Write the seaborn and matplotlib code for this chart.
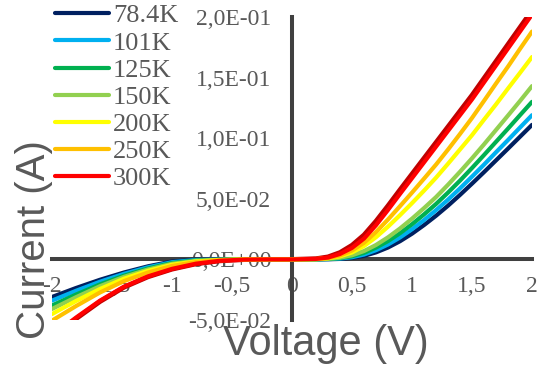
import numpy as np
import pandas as pd
import matplotlib
matplotlib.use("Agg")
import matplotlib.pyplot as plt
import seaborn as sns
from matplotlib.ticker import FuncFormatter

sns.set_theme(style="white")

voltage = [-2.0, -1.8, -1.6, -1.4, -1.2, -1.0, -0.8, -0.6, -0.4, -0.2, 0.0,
           0.2, 0.3, 0.4, 0.5, 0.6, 0.7, 0.8, 0.9, 1.0,
           1.1, 1.2, 1.3, 1.4, 1.5, 1.6, 1.7, 1.8, 1.9, 2.0]

i_78K = [-0.0310, -0.0236, -0.0168, -0.0108, -0.0057, -0.0017, -0.0002, -0.0001, 0.0, 0.0, 0.0,
         0.0000, 0.0001, 0.0004, 0.0012, 0.0029, 0.0058, 0.0098, 0.0150, 0.0212,
         0.0283, 0.0360, 0.0443, 0.0532, 0.0625, 0.0720, 0.0817, 0.0914, 0.1012, 0.1110]
i_101K = [-0.0340, -0.0259, -0.0184, -0.0119, -0.0065, -0.0023, -0.0005, -0.0002, 0.0, 0.0, 0.0,
          0.0000, 0.0002, 0.0007, 0.0018, 0.0040, 0.0076, 0.0123, 0.0181, 0.0249,
          0.0324, 0.0406, 0.0493, 0.0586, 0.0683, 0.0782, 0.0884, 0.0985, 0.1088, 0.1190]
i_125K = [-0.0380, -0.0290, -0.0206, -0.0134, -0.0075, -0.0030, -0.0009, -0.0003, 0.0, 0.0, 0.0,
          0.0001, 0.0004, 0.0010, 0.0026, 0.0054, 0.0097, 0.0151, 0.0216, 0.0290,
          0.0371, 0.0457, 0.0551, 0.0650, 0.0754, 0.0861, 0.0970, 0.1079, 0.1190, 0.1300]
i_150K = [-0.0409, -0.0312, -0.0221, -0.0144, -0.0083, -0.0036, -0.0012, -0.0004, -0.0001, 0.0, 0.0,
          0.0001, 0.0005, 0.0014, 0.0034, 0.0069, 0.0119, 0.0182, 0.0255, 0.0336,
          0.0423, 0.0514, 0.0616, 0.0723, 0.0834, 0.0949, 0.1068, 0.1187, 0.1307, 0.1430]
i_200K = [-0.0451, -0.0343, -0.0244, -0.0159, -0.0094, -0.0044, -0.0017, -0.0005, -0.0001, 0.0, 0.0,
          0.0002, 0.0009, 0.0025, 0.0057, 0.0110, 0.0183, 0.0270, 0.0365, 0.0464,
          0.0567, 0.0674, 0.0789, 0.0907, 0.1025, 0.1153, 0.1279, 0.1410, 0.1539, 0.1670]
i_250K = [-0.0505, -0.0385, -0.0273, -0.0179, -0.0108, -0.0054, -0.0022, -0.0007, -0.0001, 0.0, 0.0,
          0.0003, 0.0011, 0.0032, 0.0073, 0.0137, 0.0226, 0.0329, 0.0439, 0.0551,
          0.0666, 0.0782, 0.0906, 0.1035, 0.1167, 0.1308, 0.1451, 0.1591, 0.1737, 0.1880]
i_300K = [-0.0630, -0.0480, -0.0340, -0.0225, -0.0140, -0.0078, -0.0035, -0.0011, -0.0002, 0.0, 0.0,
          0.0004, 0.0015, 0.0045, 0.0095, 0.0172, 0.0282, 0.0408, 0.0540, 0.0670,
          0.0800, 0.0930, 0.1060, 0.1190, 0.1320, 0.1460, 0.1600, 0.1740, 0.1880, 0.2020]
i_extra = [-0.0640, -0.0490, -0.0348, -0.0230, -0.0144, -0.0081, -0.0037, -0.0012, -0.0002, 0.0, 0.0,
           0.0006, 0.0021, 0.0057, 0.0117, 0.0202, 0.0316, 0.0443, 0.0575, 0.0705,
           0.0835, 0.0965, 0.1095, 0.1225, 0.1355, 0.1495, 0.1635, 0.1775, 0.1915, 0.2055]

labels = ["78.4K", "101K", "125K", "150K", "200K", "250K", "300K"]
colors = ["#002060", "#00B0F0", "#00B050", "#92D050", "#FFFF00", "#FFC000", "#FF0000"]
series = [i_78K, i_101K, i_125K, i_150K, i_200K, i_250K, i_300K]

x_ticks = [-2, -1.5, -1, -0.5, 0, 0.5, 1, 1.5, 2]
y_ticks = [-0.05, 0, 0.05, 0.1, 0.15, 0.2]

rows = []
for lab, vals in zip(labels, series):
    for v, c in zip(voltage, vals):
        rows.append({"V": v, "I": c, "T": lab})
df = pd.DataFrame(rows)
df_extra = pd.DataFrame({"V": voltage, "I": i_extra})

fig = plt.figure(figsize=(5.41, 3.65), dpi=100)
ax = fig.add_axes([52 / 541, 45 / 365, 480 / 541, 303 / 365])

gray = "#595959"
axc = "#404040"

sns.lineplot(data=df_extra, x="V", y="I", color="#C00000", lw=3.4, ax=ax,
             sort=False, estimator=None, legend=False)
sns.lineplot(data=df, x="V", y="I", hue="T", hue_order=labels,
             palette=dict(zip(labels, colors)), lw=3.0, ax=ax,
             sort=False, estimator=None)
for ln in ax.get_lines():
    ln.set_solid_capstyle("round")
    ln.set_solid_joinstyle("round")

ax.set_xlim(-2, 2)
ax.set_ylim(-0.05, 0.2)

for s in ["top", "right"]:
    ax.spines[s].set_visible(False)
for s in ["left", "bottom"]:
    ax.spines[s].set_position(("data", 0))
    ax.spines[s].set_color(axc)
    ax.spines[s].set_linewidth(2.9)
    ax.spines[s].set_zorder(1)

ax.set_xticks(x_ticks)
ax.set_yticks(y_ticks)
ax.xaxis.set_major_formatter(FuncFormatter(lambda v, p: ("%g" % v).replace(".", ",")))
ax.yaxis.set_major_formatter(FuncFormatter(lambda v, p: ("%.1E" % v).replace(".", ",")))
ax.tick_params(axis="both", direction="inout", length=10, width=2.9, color=axc,
               labelcolor=gray, labelsize=17)
ax.tick_params(axis="x", pad=7)
ax.tick_params(axis="y", pad=10)
for t in ax.get_xticklabels() + ax.get_yticklabels():
    t.set_fontfamily("Liberation Serif")

ax.set_xlabel("")
ax.set_ylabel("")
fig.text(326 / 541, 1 - 355 / 365, "Voltage (V)", ha="center", va="baseline",
         fontsize=30, color=gray, family="Liberation Sans")
fig.text(34 / 541, 1 - 240 / 365, "Current (A)", ha="center", va="center",
         rotation=90, fontsize=29, color=gray, family="Liberation Sans")

leg = ax.legend(loc="upper left", bbox_to_anchor=(55 / 541, 1 - 4 / 365),
                bbox_transform=fig.transFigure, frameon=False, fontsize=19,
                handlelength=2.05, handletextpad=0.15, labelspacing=0.14,
                borderpad=0, borderaxespad=0)
for t in leg.get_texts():
    t.set_color(gray)
    t.set_fontfamily("Liberation Serif")
for h in leg.get_lines():
    h.set_linewidth(3.0)

fig.savefig("out.png", dpi=100)
